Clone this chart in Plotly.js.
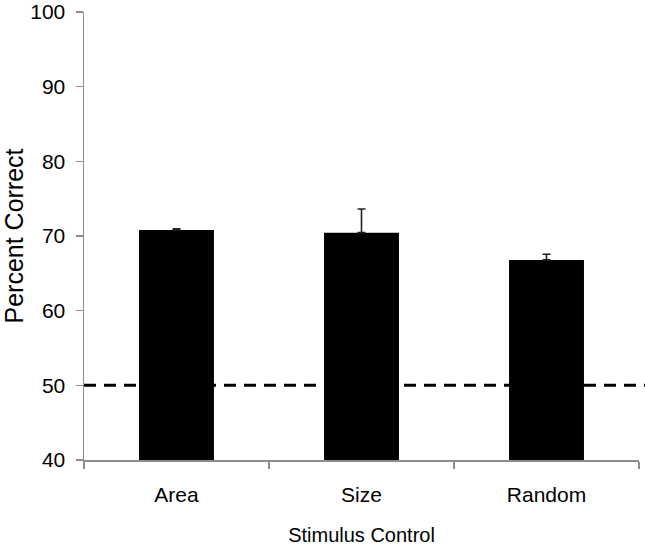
<!DOCTYPE html>
<html>
<head>
<meta charset="utf-8">
<script src="https://cdn.plot.ly/plotly-3.0.1.min.js"></script>
<style>html,body{margin:0;padding:0;background:#fff;}#chart{width:645px;height:546px;}</style>
</head>
<body>
<div id="chart"></div>
<script>
var categories = ["Area", "Size", "Random"];
var percentCorrect = [70.8, 70.45, 66.8];
var errorUpper = [0.18, 3.17, 0.75];
var errorLower = [0, 0, 0];
var chanceLevel = 50;
var yTickValues = [40, 50, 60, 70, 80, 90, 100];

var FONT = '"Liberation Sans", Arial, sans-serif';

var trace = {
  type: 'bar',
  x: categories,
  y: percentCorrect,
  marker: { color: '#000000', line: { width: 0 } },
  error_y: {
    type: 'data',
    symmetric: false,
    array: errorUpper,
    arrayminus: errorLower,
    color: '#222222',
    thickness: 1.6,
    width: 4
  },
  hoverinfo: 'none'
};

var plotLeft = 83.5, plotRight = 6, W = 645;
var plotWidth = W - plotLeft - plotRight;

var layout = {
  width: 645,
  height: 546,
  margin: { l: plotLeft, r: plotRight, t: 12, b: 86, pad: 0 },
  paper_bgcolor: '#ffffff',
  plot_bgcolor: '#ffffff',
  showlegend: false,
  bargap: 0.595,
  font: { family: FONT, color: '#000000', size: 20 },
  xaxis: {
    type: 'category',
    range: [-0.5, 2.5],
    showline: true,
    linecolor: '#8c8c8c',
    linewidth: 1.5,
    ticks: 'outside',
    tickson: 'boundaries',
    ticklen: 7,
    tickwidth: 1.5,
    tickcolor: '#8c8c8c',
    showgrid: false,
    zeroline: false,
    tickfont: { family: FONT, size: 21, color: '#000' },
    ticklabelstandoff: 15,
    title: { text: 'Stimulus Control', font: { family: FONT, size: 20, color: '#000' }, standoff: 24 },
    automargin: false
  },
  yaxis: {
    range: [40, 100],
    tickvals: yTickValues,
    showline: true,
    linecolor: '#8c8c8c',
    linewidth: 1.5,
    ticks: 'outside',
    ticklen: 7,
    tickwidth: 1.5,
    tickcolor: '#8c8c8c',
    showgrid: false,
    zeroline: false,
    tickfont: { family: FONT, size: 21, color: '#000' },
    ticklabelstandoff: 6,
    title: { text: 'Percent Correct', font: { family: FONT, size: 25, color: '#000' }, standoff: 10 },
    automargin: false
  },
  shapes: [{
    type: 'line',
    layer: 'below',
    xref: 'paper',
    yref: 'y',
    x0: 0,
    x1: (W - plotLeft) / plotWidth,
    y0: chanceLevel,
    y1: chanceLevel,
    line: { color: '#000000', width: 3, dash: '12px,8px' }
  }]
};

Plotly.newPlot('chart', [trace], layout, { staticPlot: true, displayModeBar: false });
</script>
</body>
</html>
